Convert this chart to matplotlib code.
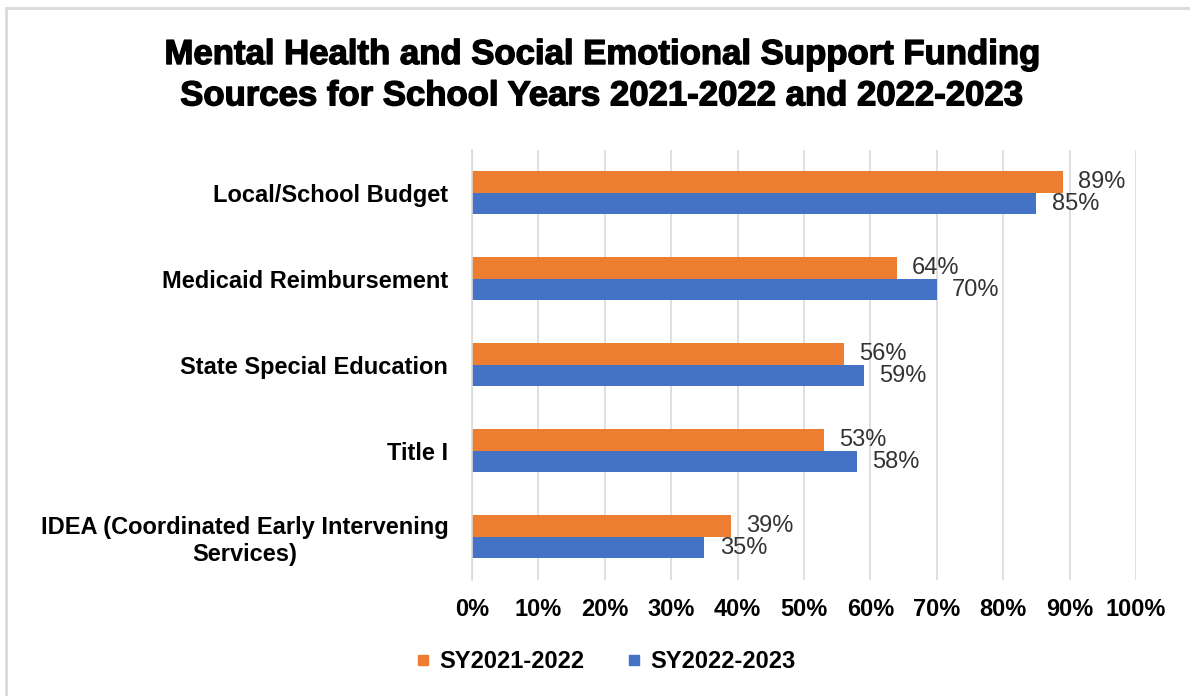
import matplotlib.pyplot as plt
import matplotlib.patheffects as pe
import numpy as np
from matplotlib.lines import Line2D
from matplotlib.patches import Rectangle

plt.rcParams['font.family'] = ['Liberation Sans', 'DejaVu Sans']

# funding sources, top to bottom
categories = [
    "Local/School Budget",
    "Medicaid Reimbursement",
    "State Special Education",
    "Title I",
    "IDEA (Coordinated Early Intervening\nServices)",
]
sy_2021_22 = [89, 64, 56, 53, 39]
sy_2022_23 = [85, 70, 59, 58, 35]
series_names = ["SY2021-2022", "SY2022-2023"]
x_ticks = list(range(0, 101, 10))

ORANGE = "#ED7D31"
BLUE = "#4472C4"
GRID = "#D9D9D9"

fig = plt.figure(figsize=(11.9, 6.96), dpi=100)
ax = fig.add_axes([0.3966, 0.1667, 0.558, 0.6178])

y = np.arange(len(categories))
h = 0.25
bars_a = ax.barh(y - h / 2, sy_2021_22, height=h, color=ORANGE, label=series_names[0])
bars_b = ax.barh(y + h / 2, sy_2022_23, height=h, color=BLUE, label=series_names[1])

for bars, vals in ((bars_a, sy_2021_22), (bars_b, sy_2022_23)):
    for b, v in zip(bars, vals):
        ax.annotate(f"{v}%", (v, b.get_y() + b.get_height() / 2),
                    xytext=(11, 0), textcoords="offset points",
                    ha="left", va="center", fontsize=17, color="#333333")

ax.set_xlim(0, 100)
ax.set_ylim(len(categories) - 0.5, -0.5)
ax.set_xticks(x_ticks)
ax.set_xticklabels([f"{t}%" for t in x_ticks], fontsize=17, fontweight="bold")
ax.set_yticks(y)
ax.set_yticklabels(categories, fontsize=17, fontweight="bold", multialignment="center")
ax.tick_params(axis="both", length=0, colors="#000000")
ax.tick_params(axis="x", pad=13)
ax.tick_params(axis="y", pad=17)

ax.grid(axis="x", color=GRID, lw=1.2)
ax.set_axisbelow(True)
for side in ("top", "right", "bottom"):
    ax.spines[side].set_visible(False)
ax.spines["left"].set_color(GRID)
ax.spines["left"].set_linewidth(1.2)

# heavy two-line title
fig.text(0.506, 0.892, "Mental Health and Social Emotional Support Funding\n"
         "Sources for School Years 2021-2022 and 2022-2023",
         ha="center", va="center", fontsize=25, fontweight="bold",
         linespacing=1.32,
         path_effects=[pe.withStroke(linewidth=1.0, foreground="black")])

handles = [Line2D([], [], marker="s", ls="", color=c, markersize=7)
           for c in (ORANGE, BLUE)]
fig.legend(handles, series_names, loc="center", bbox_to_anchor=(0.509, 0.049),
           ncol=2, frameon=False, prop={"size": 17, "weight": "bold"},
           handlelength=0.6, handletextpad=0.4, columnspacing=1.8)

# light frame around the chart area
fig.patches.append(Rectangle((6 / 1190, -0.1), 1.2, 0.1 + 1 - 8 / 696,
                             transform=fig.transFigure, fill=False,
                             ec=GRID, lw=2))

fig.savefig("out.png", dpi=100, facecolor="white")
